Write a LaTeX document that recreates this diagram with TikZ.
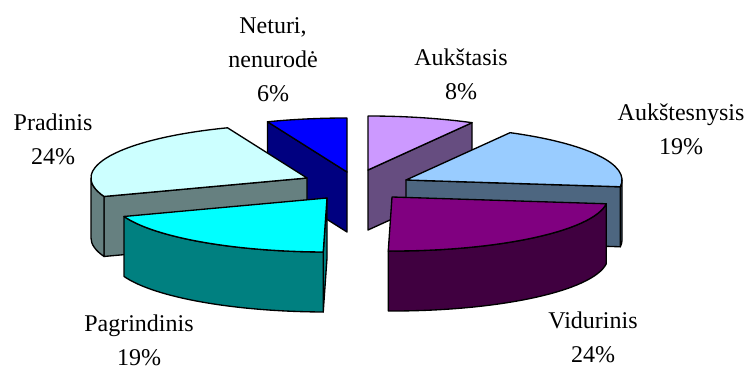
\documentclass[tikz,border=0pt]{standalone}
\usepackage{fontspec}
\setmainfont{Liberation Serif}

\tikzset{every picture/.style={line width=0.75pt}}
\tikzset{
  slice/.style={draw=black, line width=1pt, line join=round},
  lbl/.style={anchor=base, align=center, inner sep=0.75pt, font=\fontsize{18}{25.5}\selectfont},
  rim/.style={x radius=216, y radius=54}
}

\begin{document}
\begin{tikzpicture}[x=0.75pt,y=0.75pt,yscale=-1,xscale=1]
\useasboundingbox (0,0) rectangle (755,370);

%Shape: Slice Neturi
\draw [slice, fill={rgb, 255:red, 0; green, 0; blue, 128 }] (347,172) -- (267.49,121.79) -- (267.49,181.79) -- (347,232) -- cycle ;
\draw [slice, fill={rgb, 255:red, 0; green, 0; blue, 255 }] (347,172) -- (267.49,121.79) arc [start angle=248.4, end angle=270, rim] -- cycle ;

%Shape: Slice Aukstasis
\draw [slice, fill={rgb, 255:red, 102; green, 77; blue, 128 }] (368,170) -- (472.06,122.68) -- (472.06,182.68) -- (368,230) -- cycle ;
\draw [slice, fill={rgb, 255:red, 204; green, 153; blue, 255 }] (368,170) -- (368,116) arc [start angle=-90, end angle=-61.2, rim] -- cycle ;

%Shape: Slice Aukstesnysis
\draw [slice, fill={rgb, 255:red, 77; green, 102; blue, 128 }] (622,180) arc [start angle=0, end angle=7.2, rim] -- (620.30,246.77) arc [start angle=7.2, end angle=0, rim] -- cycle ;
\draw [slice, fill={rgb, 255:red, 77; green, 102; blue, 128 }] (406,180) -- (620.30,186.77) -- (620.30,246.77) -- (406,240) -- cycle ;
\draw [slice, fill={rgb, 255:red, 153; green, 204; blue, 255 }] (406,180) -- (510.06,132.68) arc [start angle=-61.2, end angle=7.2, rim] -- cycle ;

%Shape: Slice Pradinis
\draw [slice, fill={rgb, 255:red, 102; green, 128; blue, 128 }] (307,178) -- (104.03,196.47) -- (104.03,256.47) -- (307,238) -- cycle ;
\draw [slice, fill={rgb, 255:red, 102; green, 128; blue, 128 }] (104.03,196.47) arc [start angle=160, end angle=180, rim] -- (91,238) arc [start angle=180, end angle=160, rim] -- cycle ;
\draw [slice, fill={rgb, 255:red, 204; green, 255; blue, 255 }] (307,178) -- (104.03,196.47) arc [start angle=160, end angle=248.4, rim] -- cycle ;

%Shape: Slice Pagrindinis
\draw [slice, fill={rgb, 255:red, 0; green, 128; blue, 128 }] (327,198) -- (323.23,251.99) -- (323.23,311.99) -- (327,258) -- cycle ;
\draw [slice, fill={rgb, 255:red, 0; green, 128; blue, 128 }] (323.23,251.99) arc [start angle=91, end angle=160, rim] -- (124.03,276.47) arc [start angle=160, end angle=91, rim] -- cycle ;
\draw [slice, fill={rgb, 255:red, 0; green, 255; blue, 255 }] (327,198) -- (323.23,251.99) arc [start angle=91, end angle=160, rim] -- cycle ;

%Shape: Slice Vidurinis
\draw [slice, fill={rgb, 255:red, 64; green, 0; blue, 64 }] (606.30,203.77) arc [start angle=7.2, end angle=91, rim] -- (388.23,310.99) arc [start angle=91, end angle=7.2, rim] -- cycle ;
\draw [slice, fill={rgb, 255:red, 128; green, 0; blue, 128 }] (392,197) -- (606.30,203.77) arc [start angle=7.2, end angle=91, rim] -- cycle ;

% Text Node
\draw (273,102) node (neturi) [lbl] {Neturi,\\nenurodė\\6\%};
% Text Node
\draw (461,100) node (aukstasis) [lbl] {Aukštasis\\8\%};
% Text Node
\draw (681,155) node (aukstesnysis) [lbl] {Aukštesnysis\\19\%};
% Text Node
\draw (53,165) node (pradinis) [lbl] {Pradinis\\24\%};
% Text Node
\draw (139,365) node (pagrindinis) [lbl] {Pagrindinis\\19\%};
% Text Node
\draw (593,362) node (vidurinis) [lbl] {Vidurinis\\24\%};

\end{tikzpicture}
\end{document}
